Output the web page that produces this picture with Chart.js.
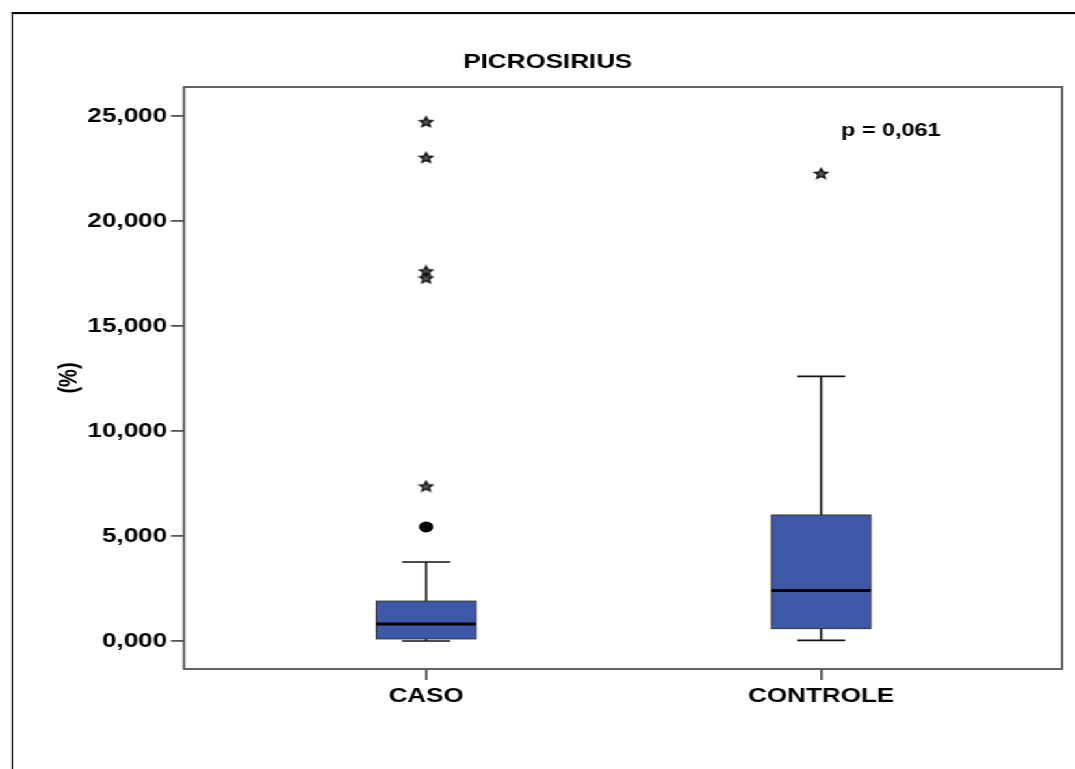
<!DOCTYPE html>
<html lang="pt-BR">
<head>
  <meta charset="UTF-8" />
  <title>Picrosirius - boxplot</title>
  <script src="https://cdn.jsdelivr.net/npm/chart.js"></script>
  <style>
    html, body { margin: 0; padding: 0; background: #fff; overflow: hidden; width: 1075px; height: 769px; }
    /* the source picture is stretched sideways, so the whole stage is stretched too */
    #stage { position: absolute; left: 0; top: 0; width: 827px; height: 769px; transform: scaleX(1.3); transform-origin: 0 0; }
    #frame { position: absolute; left: 8.5px; top: 12px; right: -20px; bottom: -20px; border-top: 2px solid #000; border-left: 1.6px solid #000; }
    #chartBox { position: absolute; left: 0; top: 0; width: 827px; height: 769px; }
  </style>
</head>
<body>
  <div id="stage">
    <div id="frame"></div>
    <div id="chartBox"><canvas id="boxChart"></canvas></div>
  </div>

  <script>
    // data (values in %)
    const categories = ['CASO', 'CONTROLE'];
    const whiskerLow = [0.00, 0.03];
    const q1 = [0.10, 0.59];
    const median = [0.81, 2.40];
    const q3 = [1.90, 6.00];
    const whiskerHigh = [3.76, 12.60];
    const extremes = [[24.73, 23.03, 17.62, 17.29, 7.38], [22.27]];   // stars
    const outliers = [[5.43], []];                                      // dots
    const yTicks = [0, 5, 10, 15, 20, 25];
    const title = 'PICROSIRIUS';
    const pText = 'p = 0,061';

    const FONT = '"Liberation Sans", Arial, sans-serif';
    const BOX_W = 0.252;   // in x units
    const CAP_W = 0.122;
    const BOX_FILL = '#3E58A8';

    function starImage() {
      const size = 13, c = document.createElement('canvas');
      c.width = c.height = size;
      const g = c.getContext('2d');
      const R = 5.4, r = R * 0.45, cx = size / 2, cy = size / 2 + 0.6;
      g.beginPath();
      for (let i = 0; i < 10; i++) {
        const rad = i % 2 ? r : R;
        const a = -Math.PI / 2 + i * Math.PI / 5;
        g.lineTo(cx + rad * Math.cos(a), cy + rad * Math.sin(a));
      }
      g.closePath();
      g.fillStyle = '#555';
      g.fill();
      g.strokeStyle = '#000';
      g.lineWidth = 1.3;
      g.stroke();
      return c;
    }

    const toPoints = groups => groups.flatMap((vals, i) => vals.map(v => ({ x: i + 1, y: v })));

    const boxPlugin = {
      id: 'boxes',
      beforeDatasetsDraw(chart) {
        const { ctx, chartArea: a, scales: { x, y } } = chart;
        ctx.save();
        // plot frame
        ctx.strokeStyle = '#555';
        ctx.lineWidth = 1.8;
        ctx.strokeRect(a.left, a.top, a.right - a.left, a.bottom - a.top);

        categories.forEach((c, i) => {
          const cx = x.getPixelForValue(i + 1);
          const bl = x.getPixelForValue(i + 1 - BOX_W / 2), br = x.getPixelForValue(i + 1 + BOX_W / 2);
          const cl = x.getPixelForValue(i + 1 - CAP_W / 2), cr = x.getPixelForValue(i + 1 + CAP_W / 2);
          const yLo = y.getPixelForValue(whiskerLow[i]), yHi = y.getPixelForValue(whiskerHigh[i]);
          const yQ1 = y.getPixelForValue(q1[i]), yQ3 = y.getPixelForValue(q3[i]);
          const yMed = y.getPixelForValue(median[i]);

          // whiskers
          ctx.strokeStyle = '#111';
          ctx.lineWidth = 1.6;
          ctx.beginPath();
          ctx.moveTo(cx, yQ3); ctx.lineTo(cx, yHi);
          ctx.moveTo(cx, yQ1); ctx.lineTo(cx, yLo);
          ctx.moveTo(cl, yHi); ctx.lineTo(cr, yHi);
          ctx.moveTo(cl, yLo); ctx.lineTo(cr, yLo);
          ctx.stroke();

          // box
          ctx.fillStyle = BOX_FILL;
          ctx.fillRect(bl, yQ3, br - bl, yQ1 - yQ3);
          ctx.strokeStyle = '#333';
          ctx.lineWidth = 1;
          ctx.strokeRect(bl, yQ3, br - bl, yQ1 - yQ3);

          // median
          ctx.strokeStyle = '#000';
          ctx.lineWidth = 3;
          ctx.beginPath();
          ctx.moveTo(bl, yMed); ctx.lineTo(br, yMed);
          ctx.stroke();
        });
        ctx.restore();
      },
      afterDraw(chart) {
        const ctx = chart.ctx;
        ctx.save();
        ctx.fillStyle = '#000';
        ctx.textAlign = 'center';
        ctx.textBaseline = 'middle';
        ctx.font = 'bold 20px ' + FONT;
        ctx.fillText(title, 421.4, 62);
        ctx.font = 'bold 18px ' + FONT;
        ctx.fillText(pText, 685.3, 131);
        ctx.restore();
      }
    };

    new Chart(document.getElementById('boxChart'), {
      type: 'scatter',
      data: {
        datasets: [
          {
            label: 'extremos',
            data: toPoints(extremes),
            pointStyle: starImage(),
            pointRadius: 6
          },
          {
            label: 'outliers',
            data: toPoints(outliers),
            pointStyle: 'circle',
            pointRadius: 5.5,
            backgroundColor: '#000',
            borderColor: '#000',
            borderWidth: 0
          }
        ]
      },
      options: {
        responsive: true,
        maintainAspectRatio: false,
        animation: false,
        events: [],
        layout: { padding: { left: 0, top: 87, right: 10, bottom: 0 } },
        plugins: { legend: { display: false }, tooltip: { enabled: false } },
        scales: {
          x: {
            type: 'linear',
            min: 0.387,
            max: 2.61,
            afterBuildTicks: s => { s.ticks = categories.map((c, i) => ({ value: i + 1 })); },
            afterFit: s => { s.height = 100; },
            border: { display: false },
            grid: { drawOnChartArea: false, drawTicks: true, tickLength: 11, color: '#555', lineWidth: 1.8 },
            ticks: {
              padding: 4,
              color: '#000',
              font: { family: FONT, size: 20, weight: 'bold' },
              callback: v => categories[Math.round(v) - 1]
            }
          },
          y: {
            min: -1.333,
            max: 26.381,
            afterBuildTicks: s => { s.ticks = yTicks.map(v => ({ value: v })); },
            afterFit: s => { s.width = 141.5; },
            border: { display: false },
            grid: { drawOnChartArea: false, drawTicks: true, tickLength: 10, color: '#555', lineWidth: 1.8 },
            ticks: {
              padding: 3,
              color: '#000',
              font: { family: FONT, size: 20, weight: 'bold' },
              callback: v => v.toFixed(3).replace('.', ',')
            },
            title: {
              display: true,
              text: '(%)',
              color: '#000',
              padding: { top: 41.5, bottom: 0 },
              font: { family: FONT, size: 20, weight: 'bold' }
            }
          }
        }
      },
      plugins: [boxPlugin]
    });
  </script>
</body>
</html>
